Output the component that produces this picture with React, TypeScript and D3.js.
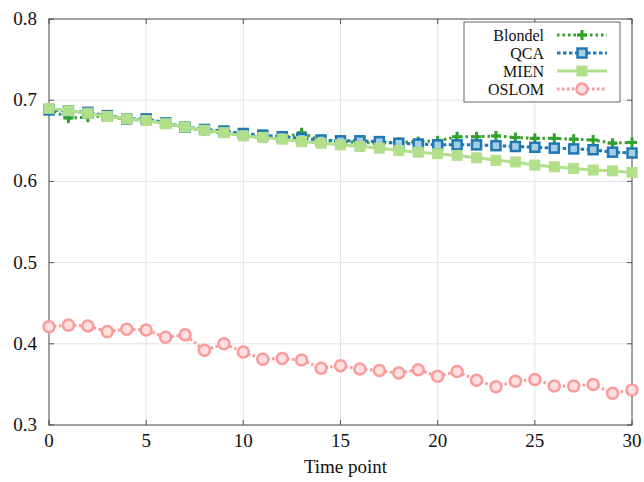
import React from "react";
import * as d3 from "d3";

const timePoints = d3.range(0, 31);
const blondel = [0.689, 0.678, 0.679, 0.681, 0.676, 0.676, 0.671, 0.667, 0.662, 0.660, 0.656, 0.654, 0.653, 0.660, 0.650, 0.649, 0.648, 0.647, 0.648, 0.649, 0.650, 0.655, 0.655, 0.656, 0.654, 0.653, 0.653, 0.652, 0.651, 0.647, 0.648];
const qca = [0.688, 0.687, 0.685, 0.681, 0.677, 0.677, 0.672, 0.667, 0.664, 0.662, 0.659, 0.657, 0.655, 0.653, 0.651, 0.650, 0.650, 0.649, 0.647, 0.646, 0.645, 0.645, 0.645, 0.644, 0.643, 0.642, 0.641, 0.640, 0.639, 0.636, 0.635];
const mien = [0.690, 0.687, 0.684, 0.680, 0.677, 0.675, 0.671, 0.667, 0.663, 0.660, 0.656, 0.654, 0.652, 0.649, 0.647, 0.645, 0.643, 0.641, 0.638, 0.636, 0.634, 0.632, 0.629, 0.626, 0.624, 0.620, 0.618, 0.616, 0.614, 0.613, 0.611];
const oslom = [0.421, 0.423, 0.422, 0.415, 0.418, 0.417, 0.408, 0.411, 0.392, 0.400, 0.390, 0.381, 0.382, 0.380, 0.370, 0.373, 0.369, 0.367, 0.364, 0.368, 0.360, 0.366, 0.355, 0.347, 0.354, 0.356, 0.348, 0.348, 0.350, 0.339, 0.343];
const seriesNames = ["Blondel", "QCA", "MIEN", "OSLOM"];
const xTicks = [0, 5, 10, 15, 20, 25, 30];
const yTicks = [0.3, 0.4, 0.5, 0.6, 0.7, 0.8];

const W = 644, H = 482;
const L = 49, R = 632, T = 19, B = 425;
const FONT = "Liberation Serif, DejaVu Serif, serif";
const FS = 19;

type Style = { color: string; fill: string; dash: string | null; marker: "plus" | "square" | "fsquare" | "circle" };
const styles: Style[] = [
  { color: "#33a02c", fill: "#33a02c", dash: "2.5,3", marker: "plus" },
  { color: "#1f78b4", fill: "#a6cee3", dash: "3.5,2.5", marker: "square" },
  { color: "#b2df8a", fill: "#b2df8a", dash: null, marker: "fsquare" },
  { color: "#fb9a99", fill: "#fde0df", dash: "2.5,2.5", marker: "circle" },
];

function Marker({ x, y, s }: { x: number; y: number; s: Style }) {
  if (s.marker === "plus") {
    return (
      <g stroke={s.color} strokeWidth={3}>
        <line x1={x - 5} x2={x + 5} y1={y} y2={y} />
        <line x1={x} x2={x} y1={y - 5} y2={y + 5} />
      </g>
    );
  }
  if (s.marker === "square") {
    return <rect x={x - 4.5} y={y - 4.5} width={9} height={9} fill={s.fill} stroke={s.color} strokeWidth={2.5} />;
  }
  if (s.marker === "fsquare") {
    return <rect x={x - 5} y={y - 5} width={10} height={10} fill={s.fill} stroke={s.color} strokeWidth={1} />;
  }
  return <circle cx={x} cy={y} r={5.5} fill={s.fill} stroke={s.color} strokeWidth={2.5} />;
}

const textStyle: React.CSSProperties = { fontFamily: FONT, fontSize: FS };
const legendTextStyle: React.CSSProperties = { fontFamily: FONT, fontSize: 16 };

export default function App() {
  const x = d3.scaleLinear().domain([0, 30]).range([L, R]);
  const y = d3.scaleLinear().domain([0.3, 0.8]).range([B, T]);
  const data = [blondel, qca, mien, oslom];
  const line = d3.line<number>().x((_, i) => x(timePoints[i])).y((d) => y(d));

  const legX0 = 464, legY0 = 22, legW = 156, legH = 80;
  const legRowY = (i: number) => 35 + i * 18;

  return (
    <div style={{ position: "absolute", left: 0, top: 0 }}>
      <svg width={W} height={H} style={{ display: "block", background: "#fff" }}>
        {/* grid */}
        {xTicks.slice(1, -1).map((t) => (
          <line key={"gx" + t} x1={x(t)} x2={x(t)} y1={T} y2={B} stroke="#e4e4e4" strokeWidth={1} />
        ))}
        {yTicks.slice(1, -1).map((t) => (
          <line key={"gy" + t} x1={L} x2={R} y1={y(t)} y2={y(t)} stroke="#e4e4e4" strokeWidth={1} />
        ))}
        {/* ticks */}
        {xTicks.map((t) => (
          <g key={"tx" + t} stroke="#555" strokeWidth={1}>
            <line x1={x(t)} x2={x(t)} y1={B} y2={B - 5} />
            <line x1={x(t)} x2={x(t)} y1={T} y2={T + 5} />
          </g>
        ))}
        {yTicks.map((t) => (
          <g key={"ty" + t} stroke="#555" strokeWidth={1}>
            <line x1={L} x2={L + 5} y1={y(t)} y2={y(t)} />
            <line x1={R} x2={R - 5} y1={y(t)} y2={y(t)} />
          </g>
        ))}
        {/* border */}
        <rect x={L} y={T} width={R - L} height={B - T} fill="none" stroke="#444" strokeWidth={1} />
        {/* tick labels */}
        {xTicks.map((t) => (
          <text key={"lx" + t} x={x(t)} y={447} textAnchor="middle" style={textStyle} fill="#111">
            {t}
          </text>
        ))}
        {yTicks.map((t) => (
          <text key={"ly" + t} x={37} y={y(t) + 6} textAnchor="end" style={textStyle} fill="#111">
            {t.toFixed(1)}
          </text>
        ))}
        <text x={(L + R) / 2 + 5} y={473} textAnchor="middle" style={textStyle} fill="#111">
          Time point
        </text>
        {/* series */}
        {data.map((vals, si) => {
          const s = styles[si];
          return (
            <g key={"s" + si}>
              <path d={line(vals) || ""} fill="none" stroke={s.color} strokeWidth={3} strokeDasharray={s.dash || undefined} />
              {vals.map((v, i) => (
                <Marker key={i} x={x(timePoints[i])} y={y(v)} s={s} />
              ))}
            </g>
          );
        })}
        {/* legend */}
        <rect x={legX0} y={legY0} width={legW} height={legH} fill="#fff" stroke="#666" strokeWidth={1} />
        {seriesNames.map((n, i) => {
          const s = styles[i];
          const ly = legRowY(i);
          return (
            <g key={"lg" + n}>
              <text x={544} y={ly + 5.5} textAnchor="end" style={legendTextStyle} fill="#111">
                {n}
              </text>
              <line x1={557} x2={607} y1={ly} y2={ly} stroke={s.color} strokeWidth={3} strokeDasharray={s.dash || undefined} />
              <Marker x={582} y={ly} s={s} />
            </g>
          );
        })}
      </svg>
    </div>
  );
}
